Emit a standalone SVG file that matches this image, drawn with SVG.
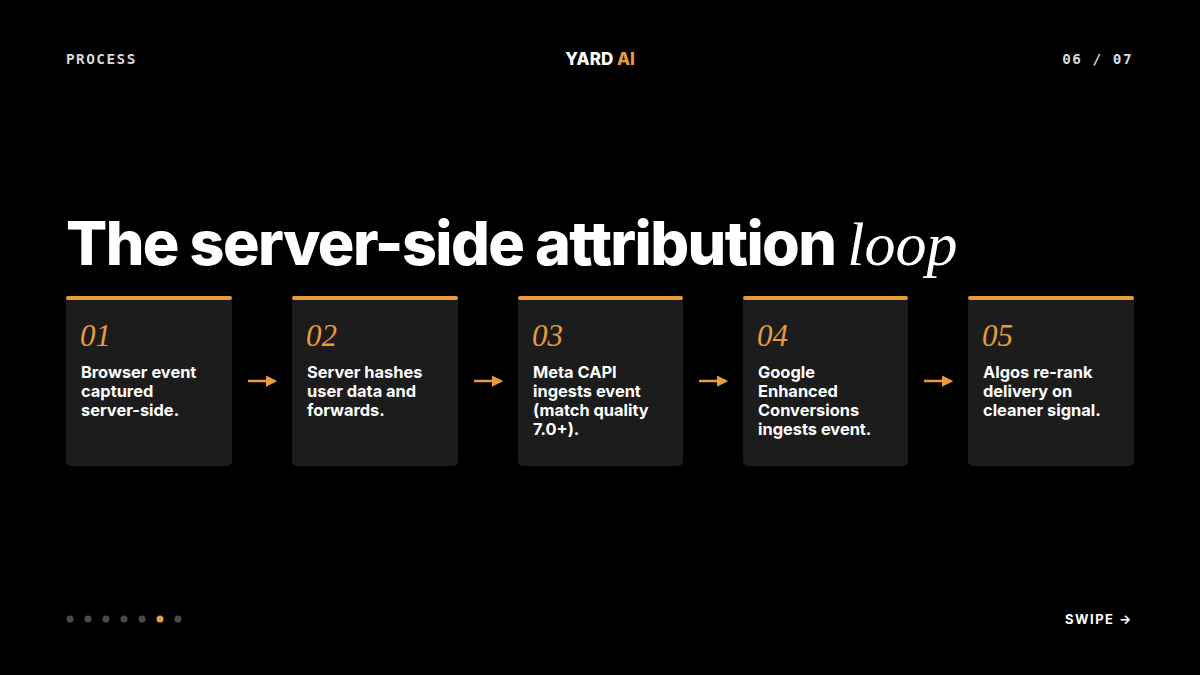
<svg xmlns="http://www.w3.org/2000/svg" width="1200" height="675" viewBox="0 0 1200 675">
<defs>
<style>
.mono{font-family:"DejaVu Sans Mono","Liberation Mono",monospace;font-weight:bold;font-size:14.3px;fill:#d8d8d8;letter-spacing:1.5px}
.card{fill:#1c1c1c}
.bar{fill:#e89b3c}
.num{font-family:"Liberation Serif",serif;font-style:italic;font-size:31px;fill:#e89b3c}
.body{font-family:Inter,"Liberation Sans",sans-serif;font-weight:700;font-size:16.4px;fill:#ffffff}
.arrow{stroke:#e89b3c;stroke-width:2.5;fill:none}
.dot{fill:#4a4a4a}
</style>
<marker id="ah" viewBox="0 0 10 10" refX="8" refY="5" markerWidth="4.5" markerHeight="4.5" orient="auto" markerUnits="strokeWidth">
<path d="M0,0 L10,5 L0,10 z" fill="#e89b3c"/>
</marker>
</defs>
<rect width="1200" height="675" fill="#000"/>
<g id="header">
<text class="mono" x="66" y="64">PROCESS</text>
<text x="600" y="65" text-anchor="middle" font-family="Inter,'Liberation Sans',sans-serif" font-weight="800" font-size="17" fill="#fff">YARD <tspan fill="#e89b3c">AI</tspan></text>
<text class="mono" x="1133" y="64" text-anchor="end">06 / 07</text>
</g>
<g id="title">
<text x="66" y="265" font-family="Inter,'Liberation Sans',sans-serif" font-weight="800" font-size="61" fill="#fff" letter-spacing="-1.6">The server-side attribution <tspan font-family="'Liberation Serif',serif" font-style="italic" font-weight="400" font-size="62" letter-spacing="0">loop</tspan></text>
</g>
<g id="node1">
<rect class="card" x="66" y="296" width="166" height="170" rx="5"/>
<rect class="bar" x="66" y="296" width="166" height="4" rx="2"/>
<text class="num" x="80" y="346">01</text>
<text class="body" x="81" y="378">Browser event</text>
<text class="body" x="81" y="397">captured</text>
<text class="body" x="81" y="416">server-side.</text>
</g>
<g id="node2">
<rect class="card" x="292" y="296" width="166" height="170" rx="5"/>
<rect class="bar" x="292" y="296" width="166" height="4" rx="2"/>
<text class="num" x="306" y="346">02</text>
<text class="body" x="307" y="378">Server hashes</text>
<text class="body" x="307" y="397">user data and</text>
<text class="body" x="307" y="416">forwards.</text>
</g>
<g id="node3">
<rect class="card" x="518" y="296" width="165" height="170" rx="5"/>
<rect class="bar" x="518" y="296" width="165" height="4" rx="2"/>
<text class="num" x="532" y="346">03</text>
<text class="body" x="533" y="378">Meta CAPI</text>
<text class="body" x="533" y="397">ingests event</text>
<text class="body" x="533" y="416">(match quality</text>
<text class="body" x="533" y="435">7.0+).</text>
</g>
<g id="node4">
<rect class="card" x="743" y="296" width="165" height="170" rx="5"/>
<rect class="bar" x="743" y="296" width="165" height="4" rx="2"/>
<text class="num" x="757" y="346">04</text>
<text class="body" x="758" y="378">Google</text>
<text class="body" x="758" y="397">Enhanced</text>
<text class="body" x="758" y="416">Conversions</text>
<text class="body" x="758" y="435">ingests event.</text>
</g>
<g id="node5">
<rect class="card" x="968" y="296" width="166" height="170" rx="5"/>
<rect class="bar" x="968" y="296" width="166" height="4" rx="2"/>
<text class="num" x="982" y="346">05</text>
<text class="body" x="983" y="378">Algos re-rank</text>
<text class="body" x="983" y="397">delivery on</text>
<text class="body" x="983" y="416">cleaner signal.</text>
</g>
<g id="connectors">
<line class="arrow" x1="248" y1="381" x2="275" y2="381" marker-end="url(#ah)"/>
<line class="arrow" x1="474" y1="381" x2="501" y2="381" marker-end="url(#ah)"/>
<line class="arrow" x1="699" y1="381" x2="726" y2="381" marker-end="url(#ah)"/>
<line class="arrow" x1="924" y1="381" x2="951" y2="381" marker-end="url(#ah)"/>
</g>
<g id="footer">
<circle class="dot" cx="70" cy="619" r="3.5"/>
<circle class="dot" cx="88" cy="619" r="3.5"/>
<circle class="dot" cx="106" cy="619" r="3.5"/>
<circle class="dot" cx="124" cy="619" r="3.5"/>
<circle class="dot" cx="142" cy="619" r="3.5"/>
<circle cx="160" cy="619" r="3.5" fill="#e89b3c"/>
<circle class="dot" cx="178" cy="619" r="3.5"/>
<text x="1133" y="624" text-anchor="end" font-family="Inter,'Liberation Sans',sans-serif" font-weight="700" font-size="13" fill="#fff" letter-spacing="1.5">SWIPE →</text>
</g>
</svg>
